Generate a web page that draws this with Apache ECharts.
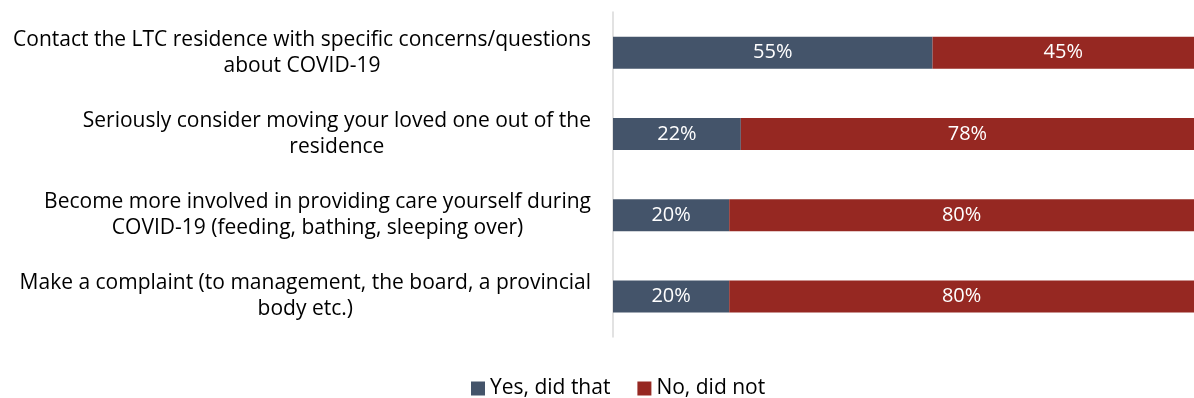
<!DOCTYPE html>
<html>
<head>
<meta charset="utf-8">
<script src="https://cdn.jsdelivr.net/npm/echarts@6/dist/echarts.min.js"></script>
<style>
  html, body { margin: 0; padding: 0; background: #fff; }
  #chart { width: 1194px; height: 398px; }
</style>
</head>
<body>
<div id="chart"></div>
<script>
// Survey items, top to bottom (each entry holds its wrapped lines)
const categories = [
  ['Contact the LTC residence with specific concerns/questions', 'about COVID-19'],
  ['Seriously consider moving your loved one out of the', 'residence'],
  ['Become more involved in providing care yourself during', 'COVID-19 (feeding, bathing, sleeping over)'],
  ['Make a complaint (to management, the board, a provincial', 'body etc.)']
];
const seriesNames = ['Yes, did that', 'No, did not'];
const yesValues = [55, 22, 20, 20];
const noValues = [45, 78, 80, 80];
const colors = ['#44546A', '#962822'];

const FONT = '"Open Sans", Lato, sans-serif';
const FONT_SIZE = 21;

const chart = echarts.init(document.getElementById('chart'));

const labels = categories.map(lines => lines.join('\n'));

function barSeries(name, values, color) {
  return {
    name: name,
    type: 'bar',
    stack: 'total',
    barWidth: 32,
    data: values,
    itemStyle: { color: color },
    label: {
      show: true,
      position: 'inside',
      formatter: p => p.value + '%',
      color: '#fff',
      fontFamily: FONT,
      fontSize: FONT_SIZE - 1
    },
    emphasis: { disabled: true }
  };
}

chart.setOption({
  animation: false,
  textStyle: { fontFamily: FONT },
  grid: { left: 613, width: 587, top: 12, bottom: 61, containLabel: false },
  legend: {
    bottom: -6,
    left: 466,
    itemWidth: 14,
    itemHeight: 14,
    itemGap: 27,
    icon: 'rect',
    textStyle: { fontFamily: FONT, fontSize: FONT_SIZE, color: '#000' },
    data: seriesNames
  },
  xAxis: {
    type: 'value',
    min: 0,
    max: 100,
    show: false
  },
  yAxis: {
    type: 'category',
    inverse: true,
    data: labels,
    axisLine: { show: true, lineStyle: { color: '#D9D9D9', width: 1.5 } },
    axisTick: { show: false },
    axisLabel: {
      margin: 22,
      align: 'right',
      formatter: v => v.split('\n').map(s => '{t|' + s + '}').join('\n'),
      rich: {
        t: {
          align: 'center',
          fontFamily: FONT,
          fontSize: FONT_SIZE,
          lineHeight: 26,
          color: '#000'
        }
      }
    }
  },
  series: [
    barSeries(seriesNames[0], yesValues, colors[0]),
    barSeries(seriesNames[1], noValues, colors[1])
  ]
});
</script>
</body>
</html>
